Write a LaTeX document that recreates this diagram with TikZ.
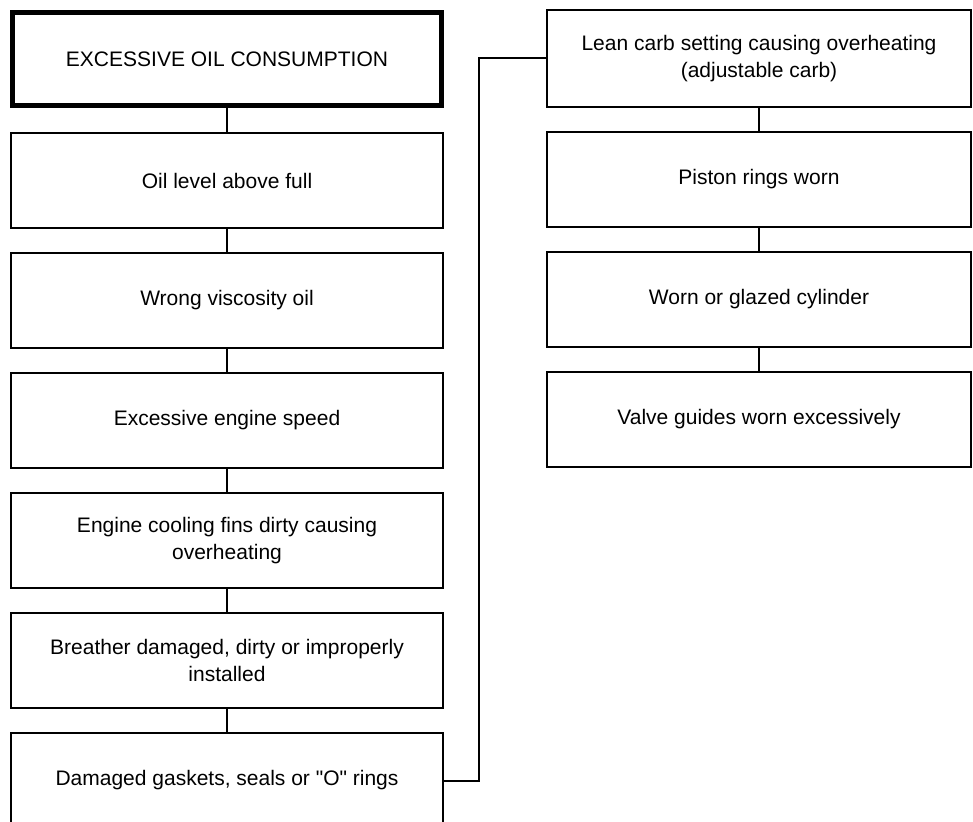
\documentclass[tikz,border=0pt]{standalone}
\usepackage{fontspec}
\setmainfont{Liberation Sans}
\usetikzlibrary{ positioning, calc }

\begin{document}
\begin{tikzpicture}[
  x=1pt, y=1pt,
  node distance=23pt,
  cause/.style={draw, line width=2pt, minimum width=432pt, minimum height=95pt,
                inner sep=0pt, align=center, font=\fontsize{21}{27}\selectfont},
  causer/.style={cause, minimum width=424pt},
  head/.style={cause, line width=5pt, minimum width=429pt, minimum height=93pt},
  link/.style={line width=2pt},
]
  \useasboundingbox (0,0) rectangle (973,-821);
  % left column
  \node[head] (top) at (227,-59) {EXCESSIVE OIL CONSUMPTION};
  \node[cause, below=24pt of top] (level) {Oil level above full};
  \node[cause, below=of level] (visc) {Wrong viscosity oil};
  \node[cause, below=of visc] (speed) {Excessive engine speed};
  \node[cause, below=of speed] (fins) {Engine cooling fins dirty causing\\overheating};
  \node[cause, below=of fins] (breather) {Breather damaged, dirty or improperly\\installed};
  \node[cause, below=of breather] (gaskets) {Damaged gaskets, seals or \textquotedbl O\textquotedbl\ rings};
  % right column
  \node[causer, minimum height=97pt] (lean) at (759,-58.5) {Lean carb setting causing overheating\\(adjustable carb)};
  \node[causer, below=of lean] (rings) {Piston rings worn};
  \node[causer, below=of rings] (cyl) {Worn or glazed cylinder};
  \node[causer, below=of cyl] (valve) {Valve guides worn excessively};
  \draw[link] (top) -- (level);
  \draw[link] (level) -- (visc);
  \draw[link] (visc) -- (speed);
  \draw[link] (speed) -- (fins);
  \draw[link] (fins) -- (breather);
  \draw[link] (breather) -- (gaskets);
  \draw[link] (gaskets.east) -- ++(35,0) |- (lean.west);
  \draw[link] (lean) -- (rings);
  \draw[link] (rings) -- (cyl);
  \draw[link] (cyl) -- (valve);
\end{tikzpicture}
\end{document}
